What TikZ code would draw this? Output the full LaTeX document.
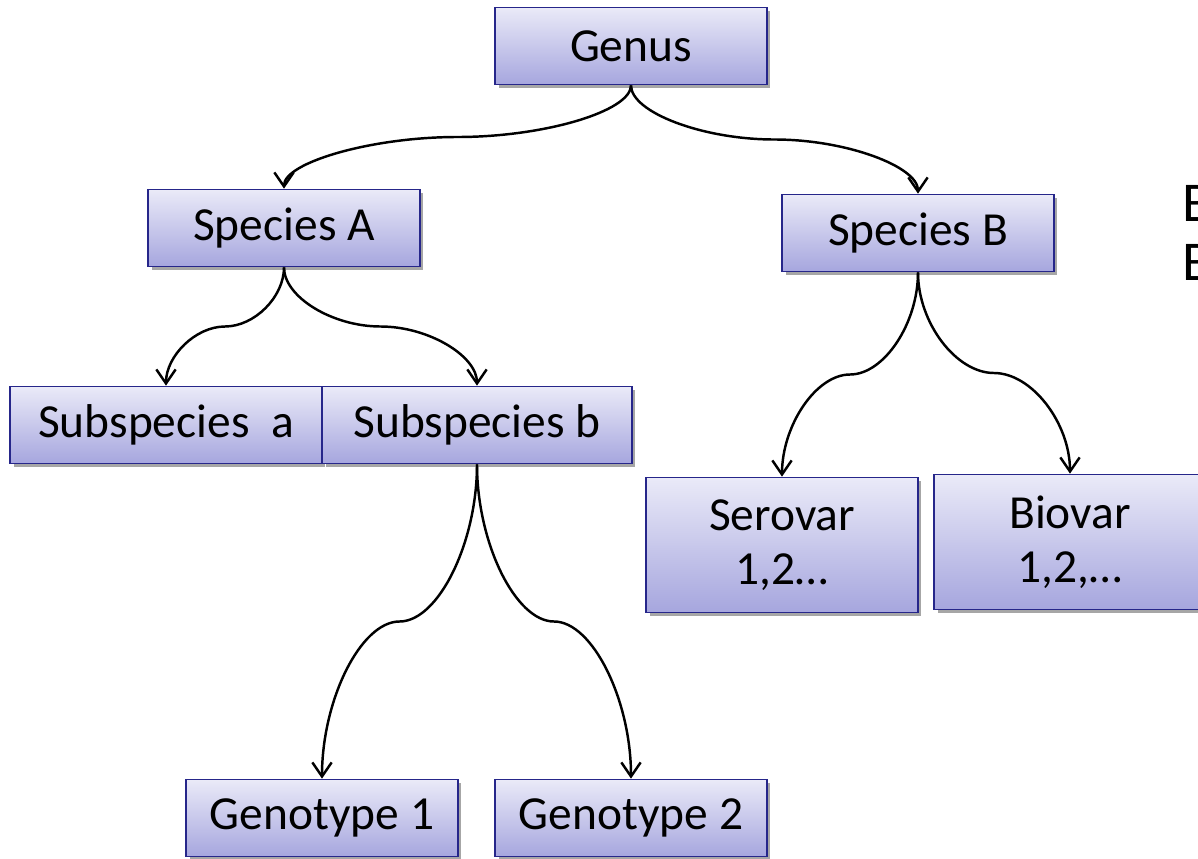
\documentclass[tikz,border=0pt]{standalone}
\usepackage{fontspec}
\setmainfont{Carlito}
\usetikzlibrary{arrows.meta}
\usetikzlibrary{shadows}
\usetikzlibrary{calc}

\definecolor{boxtop}{RGB}{234,234,248}
\definecolor{boxbottom}{RGB}{166,166,222}
\definecolor{boxline}{RGB}{38,38,138}

\begin{document}
\begin{tikzpicture}[x=0.02cm, y=-0.02cm, >={Straight Barb[length=8pt,width=11pt]},
  rank/.style={draw=boxline, line width=1pt, top color=boxtop, bottom color=boxbottom,
    drop shadow={shadow xshift=2pt, shadow yshift=-2pt, fill=black, opacity=0.35},
    inner sep=0pt, align=center, font=\fontsize{27}{31}\selectfont,
    minimum width=5.44cm, minimum height=1.54cm},
  % two curved halves, flat in the middle
  link/.style={->, line width=1.4pt, to path={
    let \p1=(\tikztostart), \p2=(\tikztotarget),
        \p3=({0.5*\x1+0.5*\x2},{0.5*\y1+0.5*\y2}) in
    .. controls (\x1,{0.75*\y1+0.25*\y2}) and ({0.75*\x1+0.25*\x2},\y3) .. (\p3)
    .. controls ({0.25*\x1+0.75*\x2},\y3) and (\x2,{0.25*\y1+0.75*\y2}) .. (\p2)}}]

\useasboundingbox (0,0) rectangle (1198,859);

\def\wide{6.24cm}
\def\tall{2.7cm}

% top
\node[rank] (genus) at (631,46) {Genus};

% species
\node[rank] (speciesA) at (284,228) {Species A};
\node[rank] (speciesB) at (918,233) {Species B};

% below species A
\node[rank, minimum width=\wide] (subA) at (166,425) {Subspecies\ \ a};
\node[rank, minimum width=6.2cm] (subB) at (477,425) {Subspecies b};

% below species B
\node[rank, minimum height=\tall] (serovar) at (782,545) {Serovar\\1,2…};
\node[rank, minimum height=\tall] (biovar) at (1070,542) {Biovar\\1,2,…};

% below subspecies b
\node[rank] (genoA) at (322,818) {Genotype 1};
\node[rank] (genoB) at (631,818) {Genotype 2};

% cut off text
\node[anchor=west, inner sep=0pt, font=\fontsize{32}{36}\selectfont] (textA) at (1182,203) {B};
\node[anchor=west, inner sep=0pt, font=\fontsize{32}{36}\selectfont] (textB) at (1182,262) {B};

\draw[link] (genus.south) to (speciesA.north);
\draw[link] (genus.south) to (speciesB.north);

\draw[link] (speciesA.south) to (subA.north);
\draw[link] (speciesA.south) to (subB.north);

\draw[link] (speciesB.south) to (serovar.north);
\draw[link] (speciesB.south) to (biovar.north);

\draw[link] (subB.south) to (genoA.north);
\draw[link] (subB.south) to (genoB.north);

\end{tikzpicture}
\end{document}
